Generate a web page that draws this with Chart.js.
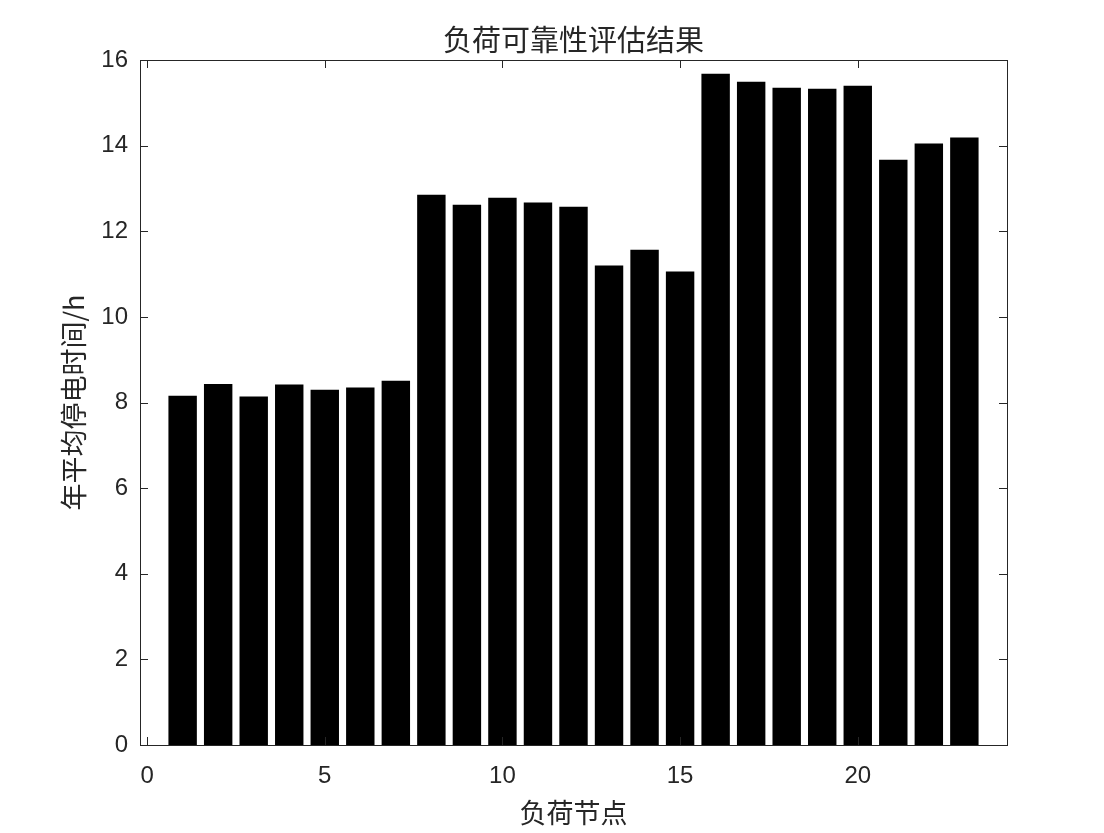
<!DOCTYPE html>
<html>
<head>
<meta charset="utf-8">
<title>负荷可靠性评估结果</title>
<script src="https://cdn.jsdelivr.net/npm/chart.js@4/dist/chart.umd.min.js"></script>
<style>
  html, body { margin: 0; padding: 0; background: #ffffff; }
  #wrap { width: 1104px; height: 833px; }
</style>
</head>
<body>
<div id="wrap"><canvas id="reliabilityChart" width="1104" height="833"></canvas></div>
<script>
// Load nodes and their average yearly outage time (h)
const nodes = [1, 2, 3, 4, 5, 6, 7, 8, 9, 10, 11, 12, 13, 14, 15, 16, 17, 18, 19, 20, 21, 22, 23]
const outageHours = [
    8.16, 8.43, 8.14, 8.42, 8.30, 8.35, 8.51,
    12.85, 12.62, 12.78, 12.67, 12.57,
    11.20, 11.57, 11.06,
    15.68, 15.49, 15.35, 15.33, 15.40,
    13.67, 14.05, 14.19
]
const xTickValues = [0, 5, 10, 15, 20]
const yTickValues = [0, 2, 4, 6, 8, 10, 12, 14, 16]

const chartTitle = '负荷可靠性评估结果'
const xAxisTitle = '负荷节点'
const yAxisTitle = '年平均停电时间/h'

const AXIS_COLOR = '#262626'
const TICK_LEN = 8
const NUM_FONT = '"Liberation Sans", Arial, sans-serif'
const CJK_FONT = '"Noto Sans CJK SC", "Noto Sans", sans-serif'

/**
 * Draws the box round the axes and the inward ticks on all four sides
 */
const boxAndTicks = {
    id: 'boxAndTicks',
    afterDatasetsDraw(chart) {
        const { ctx, chartArea: { left, right, top, bottom }, scales: { x, y } } = chart

        ctx.save()
        ctx.strokeStyle = AXIS_COLOR
        ctx.lineWidth = 1
        ctx.beginPath()

        x.ticks.forEach(tick => {
            const px = Math.round(x.getPixelForValue(tick.value)) + 0.5
            ctx.moveTo(px, bottom)
            ctx.lineTo(px, bottom - TICK_LEN)
            ctx.moveTo(px, top)
            ctx.lineTo(px, top + TICK_LEN)
        })

        y.ticks.forEach(tick => {
            const py = Math.round(y.getPixelForValue(tick.value)) + 0.5
            ctx.moveTo(left, py)
            ctx.lineTo(left + TICK_LEN, py)
            ctx.moveTo(right, py)
            ctx.lineTo(right - TICK_LEN, py)
        })

        ctx.stroke()
        ctx.strokeRect(Math.round(left) + 0.5, Math.round(top) + 0.5, Math.round(right - left), Math.round(bottom - top))
        ctx.restore()
    }
}

const ctx = document.getElementById('reliabilityChart').getContext('2d')

new Chart(ctx, {
    type: 'bar',
    data: {
        datasets: [{
            label: yAxisTitle,
            data: nodes.map((node, i) => ({ x: node, y: outageHours[i] })),
            backgroundColor: '#000000',
            borderColor: '#000000',
            borderWidth: 0,
            barPercentage: 0.8,
            categoryPercentage: 1.0
        }]
    },
    options: {
        responsive: false,
        animation: false,
        devicePixelRatio: 1,
        layout: {
            padding: { left: 0, right: 97, top: 0, bottom: 0 }
        },
        plugins: {
            legend: { display: false },
            tooltip: { enabled: false }
        },
        scales: {
            x: {
                type: 'linear',
                min: -0.2,
                max: 24.2,
                offset: false,
                grid: { display: false, drawTicks: false },
                border: { display: false },
                afterBuildTicks: scale => {
                    scale.ticks = xTickValues.map(v => ({ value: v }))
                },
                afterFit: scale => {
                    scale.height = 88
                },
                ticks: {
                    color: AXIS_COLOR,
                    font: { family: NUM_FONT, size: 24 },
                    padding: 17,
                    maxRotation: 0
                },
                title: {
                    display: true,
                    text: xAxisTitle,
                    color: AXIS_COLOR,
                    font: { family: CJK_FONT, size: 27, weight: 'normal', lineHeight: 1.2 },
                    padding: { top: 0, bottom: 4 }
                }
            },
            // Top axis only carries the chart title, so it is centred over the plot box
            xTop: {
                type: 'linear',
                position: 'top',
                min: -0.2,
                max: 24.2,
                grid: { display: false, drawTicks: false },
                border: { display: false },
                ticks: { display: false },
                afterFit: scale => {
                    scale.height = 60
                },
                title: {
                    display: true,
                    text: chartTitle,
                    color: AXIS_COLOR,
                    font: { family: CJK_FONT, size: 29, weight: 'normal', lineHeight: 1.2 },
                    padding: { top: 23, bottom: 0 }
                }
            },
            y: {
                min: 0,
                max: 16,
                grid: { display: false, drawTicks: false },
                border: { display: false },
                afterBuildTicks: scale => {
                    scale.ticks = yTickValues.map(v => ({ value: v }))
                },
                afterFit: scale => {
                    scale.width = 140
                },
                ticks: {
                    color: AXIS_COLOR,
                    font: { family: NUM_FONT, size: 24 },
                    padding: 12
                },
                title: {
                    display: true,
                    text: yAxisTitle,
                    color: AXIS_COLOR,
                    font: { family: CJK_FONT, size: 27, weight: 'normal', lineHeight: 1.2 },
                    padding: { top: 58, bottom: 0 }
                }
            }
        }
    },
    plugins: [boxAndTicks]
})
</script>
</body>
</html>
